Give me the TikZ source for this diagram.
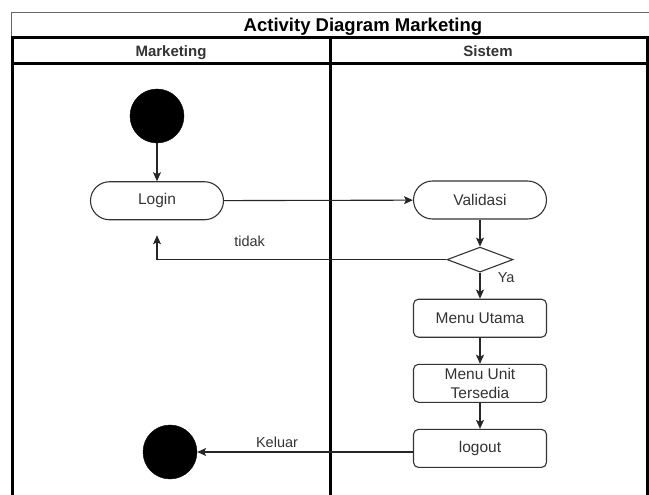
\documentclass[tikz,border=0pt]{standalone}
\usepackage{fontspec}
\setmainfont{Liberation Sans}
\usepackage{tikz}
\usetikzlibrary{shapes.geometric, arrows.meta, positioning, calc}

\definecolor{ink}{HTML}{333333}

\begin{document}
\begin{tikzpicture}[
    x=1pt, y=-1pt,
    startstop/.style={circle, fill=black, draw=black, minimum size=54pt, inner sep=0pt},
    action/.style={rectangle, draw=ink, line width=1.1pt, rounded corners=19pt, minimum width=133pt, minimum height=38pt, align=center, text=ink, font=\fontsize{15.5}{19}\selectfont},
    process/.style={rectangle, draw=ink, line width=1.1pt, rounded corners=5pt, minimum width=133pt, minimum height=38pt, align=center, text=ink, font=\fontsize{15.5}{19}\selectfont},
    decision/.style={diamond, draw=ink, line width=1.1pt, minimum width=66pt, minimum height=25pt, inner sep=0pt},
    arrow/.style={-{Stealth[length=9pt, width=8pt, inset=2pt]}, line width=1.1pt, draw=black!85},
    lbl/.style={text=ink, font=\fontsize{14.5}{17}\selectfont},
    header/.style={anchor=base, font=\fontsize{15}{17}\selectfont\bfseries, text=ink},
    lane/.style={line width=3pt, draw=black},
    node distance=26pt
]
\useasboundingbox (0,0) rectangle (649,495);
\clip (0,0) rectangle (649,495);

% Swimlanes
\draw[draw=black!60, line width=1pt, fill=white] (11,13) rectangle (720,38);
\node[anchor=base, font=\fontsize{18.5}{20}\selectfont\bfseries, text=black] (title) at (363,32) {Activity Diagram Marketing};
\draw[lane] (12,38) rectangle (647,530);
\draw[lane] (12,64) -- (647,64);
\draw[lane] (330,38) -- (330,530);
\node[header] (hmark) at (171,57) {Marketing};
\node[header] (hsis) at (488,57) {Sistem};

% Nodes
\node[startstop] (start) at (157,116) {};
\node[action, below=38pt of start] (login) {Login};
\node[action] (valid) at (480,200) {Validasi};
\node[decision, below=27pt of valid] (dec) {};
\node[process, below=of dec] (utama) {Menu Utama};
\node[process, below=of utama] (unit) {Menu Unit\\Tersedia};
\node[process, below=of unit] (logout) {logout};
\node[startstop] (fin) at (170,452) {};
\coordinate[below=15pt of login] (back);

% Arrows
\draw[arrow] (start) -- (login);
\draw[arrow] (login) -- (valid);
\draw[arrow] (valid) -- (dec);
\draw[arrow] (dec.west) -| node[lbl, above=9pt, pos=0.34] {tidak} (back);
\draw[arrow] (dec) -- node[lbl, right=14pt, pos=0.2] {Ya} (utama);
\draw[arrow] (utama) -- (unit);
\draw[arrow] (unit) -- (logout);
\draw[arrow] (logout.west |- fin) -- node[lbl, above, pos=0.63] {Keluar} (fin);

\end{tikzpicture}
\end{document}
